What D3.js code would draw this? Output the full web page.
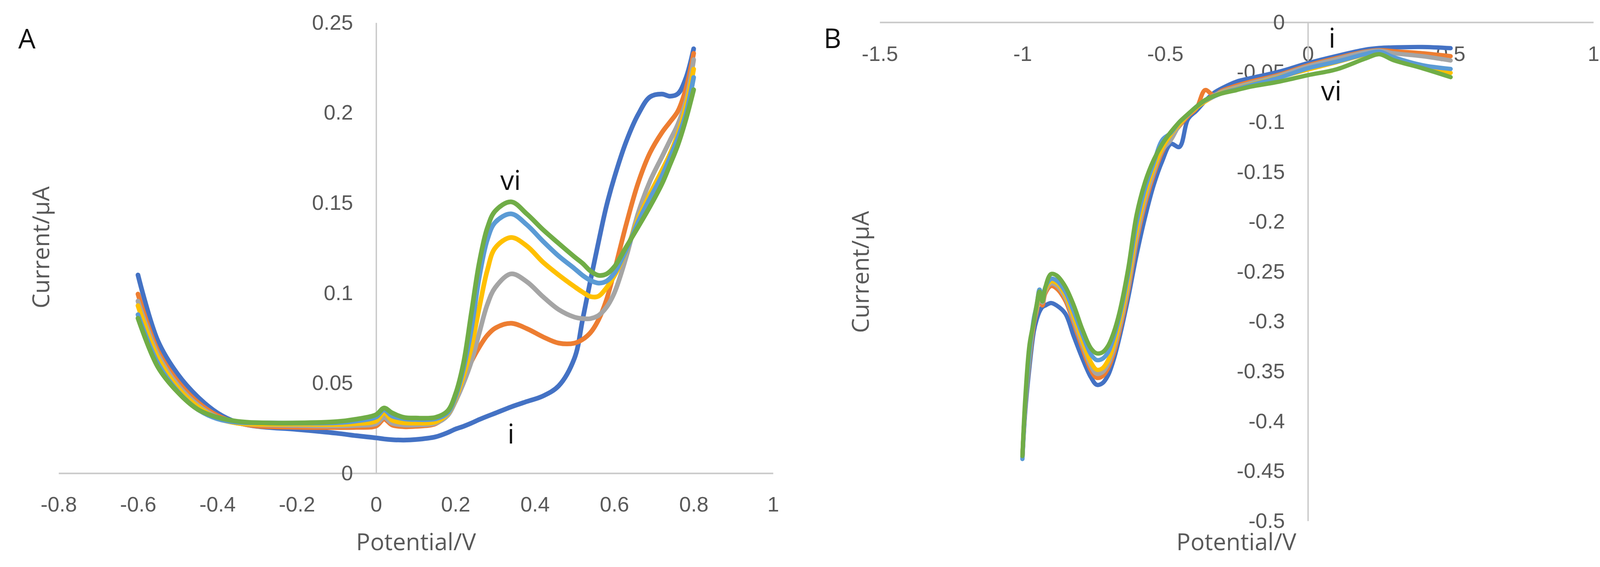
<!DOCTYPE html>
<html>
<head>
<meta charset="utf-8">
<script src="https://cdn.jsdelivr.net/npm/d3@7"></script>
<style>
  body { margin: 0; background: #fff; }
  svg { display: block; font-family: "Open Sans", "Noto Sans", sans-serif; }
</style>
</head>
<body>
<svg id="chart" width="4124" height="1451"></svg>
<script>
"use strict";

// series names and Excel-like colours (i .. vi)
const seriesNames = ["i", "ii", "iii", "iv", "v", "vi"];
const seriesColors = ["#4472C4", "#ED7D31", "#A5A5A5", "#FFC000", "#5B9BD5", "#70AD47"];

// ---- panel A : potential (V) and current (uA) ----
const potentialA = [-0.6, -0.55, -0.5, -0.45, -0.4, -0.35, -0.3, -0.2, -0.1, -0.05, 0, 0.02, 0.04, 0.07, 0.1, 0.15, 0.18, 0.2, 0.22, 0.24, 0.26, 0.28, 0.3, 0.34, 0.38, 0.42, 0.46, 0.5, 0.52, 0.54, 0.56, 0.58, 0.6, 0.63, 0.66, 0.69, 0.72, 0.74, 0.76, 0.78, 0.8];
const currentA1 = [0.110, 0.0735, 0.055, 0.0425, 0.0335, 0.0282, 0.026, 0.0243, 0.0222, 0.0208, 0.0196, 0.019, 0.0186, 0.0184, 0.0187, 0.0202, 0.0225, 0.0245, 0.026, 0.0278, 0.0298, 0.0316, 0.0333, 0.0368, 0.0398, 0.0428, 0.0485, 0.064, 0.085, 0.107, 0.128, 0.148, 0.164, 0.184, 0.199, 0.2088, 0.2104, 0.2092, 0.2105, 0.219, 0.2355];
const currentA2 = [0.0994, 0.068, 0.051, 0.0395, 0.032, 0.028, 0.0262, 0.0255, 0.0253, 0.0254, 0.0262, 0.030, 0.0268, 0.0258, 0.026, 0.0275, 0.033, 0.040, 0.0527, 0.062, 0.070, 0.0765, 0.0805, 0.0832, 0.0802, 0.0757, 0.0722, 0.0722, 0.0742, 0.078, 0.085, 0.096, 0.112, 0.138, 0.161, 0.1778, 0.189, 0.1948, 0.2008, 0.213, 0.233];
const currentA3 = [0.0955, 0.066, 0.049, 0.038, 0.031, 0.0278, 0.027, 0.0265, 0.0262, 0.0265, 0.0275, 0.031, 0.0278, 0.0268, 0.0268, 0.0278, 0.032, 0.040, 0.050, 0.062, 0.078, 0.0935, 0.103, 0.1106, 0.1062, 0.098, 0.0908, 0.0866, 0.0858, 0.0858, 0.0875, 0.092, 0.100, 0.120, 0.1442, 0.162, 0.1755, 0.1845, 0.1935, 0.206, 0.2295];
const currentA4 = [0.093, 0.064, 0.0475, 0.037, 0.0305, 0.0278, 0.0272, 0.0272, 0.027, 0.0275, 0.029, 0.0335, 0.0295, 0.028, 0.0278, 0.0285, 0.033, 0.0415, 0.054, 0.070, 0.092, 0.1125, 0.125, 0.1308, 0.126, 0.1172, 0.110, 0.1035, 0.1005, 0.098, 0.0982, 0.1028, 0.1095, 0.1235, 0.141, 0.155, 0.168, 0.177, 0.188, 0.203, 0.2242];
const currentA5 = [0.088, 0.061, 0.0455, 0.0355, 0.0302, 0.0283, 0.028, 0.0278, 0.028, 0.029, 0.0312, 0.0352, 0.0318, 0.0302, 0.0298, 0.0302, 0.0335, 0.0425, 0.058, 0.080, 0.109, 0.1295, 0.1392, 0.1439, 0.1378, 0.1288, 0.1205, 0.1135, 0.1098, 0.107, 0.1055, 0.1065, 0.111, 0.1238, 0.1394, 0.1525, 0.165, 0.175, 0.186, 0.199, 0.2196];
const currentA6 = [0.086, 0.059, 0.045, 0.0355, 0.031, 0.0288, 0.028, 0.0279, 0.0286, 0.030, 0.0325, 0.0362, 0.0335, 0.031, 0.0306, 0.031, 0.0345, 0.044, 0.061, 0.089, 0.117, 0.136, 0.1455, 0.1506, 0.1438, 0.1352, 0.1275, 0.120, 0.1165, 0.1122, 0.1098, 0.1105, 0.1145, 0.1255, 0.1366, 0.148, 0.1605, 0.171, 0.182, 0.196, 0.2128];

// ---- panel B ----
const potentialB = [-1, -0.99, -0.975, -0.96, -0.95, -0.94, -0.93, -0.92, -0.9, -0.88, -0.85, -0.82, -0.79, -0.76, -0.74, -0.72, -0.7, -0.68, -0.66, -0.63, -0.6, -0.57, -0.54, -0.51, -0.48, -0.45, -0.42, -0.39, -0.36, -0.33, -0.3, -0.25, -0.2, -0.1, 0, 0.1, 0.2, 0.25, 0.3, 0.4, 0.5];
const currentB1 = [-0.437, -0.39, -0.345, -0.31, -0.298, -0.29, -0.2855, -0.284, -0.2815, -0.284, -0.292, -0.315, -0.337, -0.356, -0.3635, -0.362, -0.354, -0.338, -0.316, -0.277, -0.233, -0.195, -0.163, -0.139, -0.122, -0.125, -0.097, -0.0885, -0.079, -0.071, -0.066, -0.0595, -0.056, -0.0495, -0.041, -0.0338, -0.0275, -0.0258, -0.0252, -0.0248, -0.026];
const currentB2 = [-0.436, -0.385, -0.338, -0.303, -0.29, -0.276, -0.284, -0.272, -0.2645, -0.267, -0.279, -0.302, -0.327, -0.349, -0.3565, -0.355, -0.347, -0.332, -0.31, -0.27, -0.22, -0.182, -0.153, -0.13, -0.115, -0.104, -0.094, -0.086, -0.068, -0.073, -0.0685, -0.0635, -0.0595, -0.0525, -0.0432, -0.036, -0.0295, -0.028, -0.029, -0.031, -0.034];
const currentB3 = [-0.436, -0.384, -0.336, -0.301, -0.288, -0.274, -0.281, -0.27, -0.262, -0.264, -0.276, -0.299, -0.323, -0.345, -0.3525, -0.351, -0.343, -0.328, -0.306, -0.266, -0.216, -0.178, -0.15, -0.128, -0.118, -0.103, -0.093, -0.0855, -0.079, -0.0735, -0.0695, -0.065, -0.061, -0.0535, -0.0442, -0.037, -0.030, -0.0285, -0.031, -0.034, -0.0383];
const currentB4 = [-0.436, -0.383, -0.334, -0.299, -0.286, -0.272, -0.279, -0.268, -0.2598, -0.2615, -0.273, -0.295, -0.319, -0.341, -0.3484, -0.347, -0.339, -0.323, -0.301, -0.26, -0.209, -0.172, -0.146, -0.126, -0.1125, -0.102, -0.093, -0.0855, -0.0795, -0.0745, -0.0705, -0.0665, -0.0625, -0.055, -0.0474, -0.040, -0.0325, -0.030, -0.036, -0.0445, -0.0507];
const currentB5 = [-0.438, -0.382, -0.332, -0.297, -0.284, -0.268, -0.277, -0.266, -0.2573, -0.259, -0.27, -0.29, -0.313, -0.333, -0.3387, -0.3375, -0.331, -0.316, -0.295, -0.253, -0.201, -0.166, -0.141, -0.118, -0.111, -0.1, -0.0925, -0.0845, -0.0785, -0.0745, -0.071, -0.067, -0.063, -0.0555, -0.0461, -0.0395, -0.032, -0.0295, -0.035, -0.043, -0.0468];
const currentB6 = [-0.435, -0.377, -0.323, -0.30, -0.283, -0.27, -0.28, -0.266, -0.2525, -0.254, -0.265, -0.284, -0.308, -0.327, -0.332, -0.331, -0.3245, -0.311, -0.291, -0.248, -0.193, -0.16, -0.138, -0.122, -0.110, -0.1, -0.092, -0.0845, -0.078, -0.074, -0.0712, -0.068, -0.0645, -0.0595, -0.053, -0.0472, -0.0365, -0.032, -0.038, -0.046, -0.055];

// tick values
const xTicksA = [-0.8, -0.6, -0.4, -0.2, 0, 0.2, 0.4, 0.6, 0.8, 1];
const yTicksA = [0, 0.05, 0.1, 0.15, 0.2, 0.25];
const xTicksB = [-1.5, -1, -0.5, 0, 0.5, 1];
const yTicksB = [0, -0.05, -0.1, -0.15, -0.2, -0.25, -0.3, -0.35, -0.4, -0.45, -0.5];

const svg = d3.select("#chart");
svg.append("rect").attr("width", 4124).attr("height", 1451).attr("fill", "#fff");

const axisColor = "#C9C9C9";
const textColor = "#595959";

function zip(xs, ys) {
  return xs.map((v, i) => [v, ys[i]]);
}

/**
 * Draws one panel: axes crossing at zero, labels, and the six smoothed lines.
 */
function drawPanel(opt) {
  const g = svg.append("g");
  const x = opt.x, y = opt.y;

  // x axis at current = 0
  const xa = g.append("g")
    .attr("transform", "translate(0," + y(0) + ")")
    .call(d3.axisBottom(x).tickValues(opt.xTicks).tickSize(0).tickFormat(d => String(d)));
  xa.select(".domain").attr("stroke", axisColor).attr("stroke-width", 4);
  xa.selectAll("text")
    .attr("y", opt.xLabelOffset)
    .attr("dy", "0.35em")
    .attr("fill", textColor)
    .style("font-size", "54px");

  // y axis at potential = 0
  const ya = g.append("g")
    .attr("transform", "translate(" + x(0) + ",0)")
    .call(d3.axisLeft(y).tickValues(opt.yTicks).tickSize(0).tickPadding(59).tickFormat(d => String(d)));
  ya.select(".domain").attr("stroke", axisColor).attr("stroke-width", 3.5);
  ya.selectAll("text")
    .attr("fill", textColor)
    .style("font-size", "54px");

  // lines, first series drawn first so "vi" ends on top
  const line = d3.line()
    .x(d => x(d[0]))
    .y(d => y(d[1]))
    .curve(d3.curveCatmullRom.alpha(0.5));

  opt.series.forEach((vals, i) => {
    g.append("path")
      .datum(zip(opt.potential, vals))
      .attr("fill", "none")
      .attr("stroke", seriesColors[i])
      .attr("stroke-width", opt.lineWidth)
      .attr("stroke-linejoin", "round")
      .attr("stroke-linecap", "round")
      .attr("d", line);
  });

  // axis titles
  g.append("text")
    .attr("x", opt.xTitle[0]).attr("y", opt.xTitle[1])
    .attr("text-anchor", "middle")
    .attr("fill", textColor)
    .style("font-size", "60px")
    .text("Potential/V");

  g.append("text")
    .attr("transform", "translate(" + opt.yTitle[0] + "," + opt.yTitle[1] + ") rotate(-90)")
    .attr("text-anchor", "middle")
    .attr("fill", textColor)
    .style("font-size", "60px")
    .text("Current/µA");

  // panel letter
  g.append("text")
    .attr("x", opt.letter[0]).attr("y", opt.letter[1])
    .attr("text-anchor", "middle")
    .attr("fill", "#111")
    .style("font-size", "70px")
    .text(opt.letterText);

  // series annotations i and vi
  opt.notes.forEach(n => {
    g.append("text")
      .attr("x", n[1]).attr("y", n[2])
      .attr("text-anchor", "middle")
      .attr("fill", "#111")
      .style("font-size", "70px")
      .text(n[0]);
  });
}

drawPanel({
  x: d3.scaleLinear([-0.8, 1], [150, 1979]),
  y: d3.scaleLinear([0, 0.25], [1211, 58]),
  xTicks: xTicksA,
  yTicks: yTicksA,
  xLabelOffset: 79,
  potential: potentialA,
  series: [currentA1, currentA2, currentA3, currentA4, currentA5, currentA6],
  lineWidth: 12,
  xTitle: [1065, 1408],
  yTitle: [126, 633],
  letter: [69, 124],
  letterText: "A",
  notes: [[seriesNames[5], 1307, 486], [seriesNames[0], 1308, 1135]]
});

drawPanel({
  x: d3.scaleLinear([-1.5, 1], [2252, 4079]),
  y: d3.scaleLinear([-0.5, 0], [1333, 57]),
  xTicks: xTicksB,
  yTicks: yTicksB,
  xLabelOffset: 80,
  potential: potentialB,
  series: [currentB1, currentB2, currentB3, currentB4, currentB5, currentB6],
  lineWidth: 11,
  xTitle: [3165, 1408],
  yTitle: [2224, 696],
  letter: [2131, 123],
  letterText: "B",
  notes: [[seriesNames[0], 3410, 122], [seriesNames[5], 3408, 257]]
});
</script>
</body>
</html>
